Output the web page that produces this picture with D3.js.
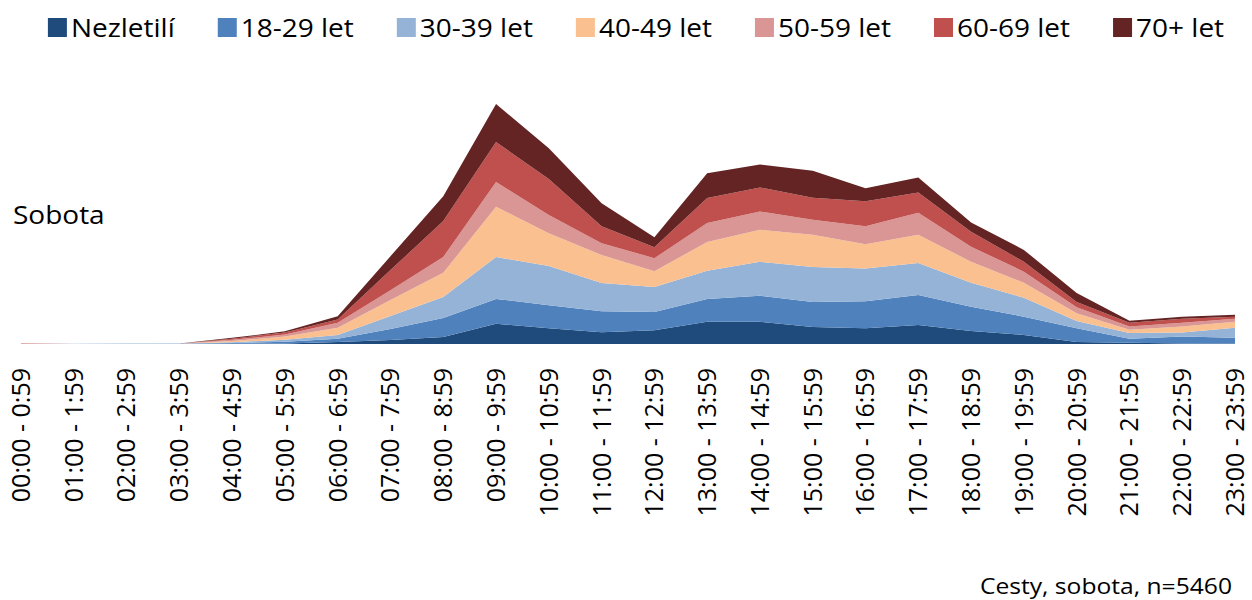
<!DOCTYPE html>
<html>
<head>
<meta charset="utf-8">
<script src="https://cdn.jsdelivr.net/npm/d3@7"></script>
<style>
  body { margin: 0; background: #fff; }
  svg { display: block; font-family: "Open Sans", sans-serif; }
</style>
</head>
<body>
<svg id="chart" width="1252" height="600"></svg>
<script>
// hours of the day (x categories)
const hours = [
  "00:00 - 0:59", "01:00 - 1:59", "02:00 - 2:59", "03:00 - 3:59", "04:00 - 4:59", "05:00 - 5:59",
  "06:00 - 6:59", "07:00 - 7:59", "08:00 - 8:59", "09:00 - 9:59", "10:00 - 10:59", "11:00 - 11:59",
  "12:00 - 12:59", "13:00 - 13:59", "14:00 - 14:59", "15:00 - 15:59", "16:00 - 16:59", "17:00 - 17:59",
  "18:00 - 18:59", "19:00 - 19:59", "20:00 - 20:59", "21:00 - 21:59", "22:00 - 22:59", "23:00 - 23:59"
];

const groups = ["Nezletilí", "18-29 let", "30-39 let", "40-49 let", "50-59 let", "60-69 let", "70+ let"];
const colors = ["#1f4a7c", "#4f81bd", "#95b3d7", "#fac090", "#d99694", "#c0504d", "#632423"];

// trips per hour
const nezletili = [0, 0, 0, 0, 0.5, 1, 5, 10, 18, 51, 40, 30, 35, 56, 56, 43, 40, 48, 33, 23, 5, 3, 1, 1];
const let18_29  = [0, 0, 0, 0.5, 2, 5, 8, 28, 48, 63, 58, 53, 46, 58, 66, 63, 68, 76, 61, 46, 35, 10, 18, 15];
const let30_39  = [0, 0.5, 1, 1, 2, 5, 10, 33, 53, 106, 99, 71, 63, 71, 86, 89, 83, 81, 61, 48, 18, 15, 10, 25];
const let40_49  = [0, 0, 0, 0, 3, 8, 18, 40, 61, 127, 83, 71, 40, 73, 81, 81, 61, 71, 53, 38, 20, 8, 15, 15];
const let50_59  = [1, 0, 0, 0, 3, 5, 13, 25, 40, 63, 46, 30, 33, 48, 46, 38, 46, 56, 38, 28, 15, 8, 10, 8];
const let60_69  = [1, 0, 0, 0, 3, 5, 8, 51, 91, 101, 91, 43, 28, 63, 61, 56, 63, 51, 38, 25, 13, 10, 10, 5];
const let70     = [0, 0, 0, 0, 2, 3, 8, 35, 63, 96, 78, 58, 25, 63, 58, 68, 33, 38, 23, 30, 23, 5, 5, 5];

const series = [nezletili, let18_29, let30_39, let40_49, let50_59, let60_69, let70];

const rows = hours.map((h, i) => {
  const r = { hour: h };
  groups.forEach((g, k) => { r[g] = series[k][i]; });
  return r;
});

const stretch = 1.12; // the original is a little wider than tall
const svg = d3.select("#chart");

const x = d3.scalePoint().domain(hours).range([21, 1235]);
const stacked = d3.stack().keys(groups)(rows);
const maxTotal = d3.max(stacked[stacked.length - 1], d => d[1]);
const y = d3.scaleLinear().domain([0, maxTotal]).range([344, 104]);

const area = d3.area()
  .x(d => x(d.data.hour))
  .y0(d => y(d[0]))
  .y1(d => y(d[1]));

svg.append("g")
  .selectAll("path")
  .data(stacked)
  .join("path")
  .attr("fill", (d, i) => colors[i])
  .attr("d", area);

// x labels, rotated
const xAxis = svg.append("g");
hours.forEach(h => {
  xAxis.append("text")
    .attr("transform", `translate(${x(h)},368) scale(1.05,1) rotate(-90)`)
    .attr("text-anchor", "end")
    .attr("dy", "0.34em")
    .attr("font-size", 25)
    .attr("fill", "#000")
    .text(h);
});

// legend
const legend = svg.append("g");
const items = [];
groups.forEach((g, i) => {
  const it = legend.append("g");
  it.append("rect")
    .attr("x", 0).attr("y", 18)
    .attr("width", 19).attr("height", 19)
    .attr("fill", colors[i]);
  const t = it.append("text")
    .attr("transform", `translate(23,28) scale(${stretch},1)`)
    .attr("dy", "0.36em")
    .attr("font-size", 25)
    .attr("fill", "#000")
    .text(g);
  const w = 23 + t.node().getComputedTextLength() * stretch;
  items.push({ it, w });
});
const gap = 43;
const totalW = d3.sum(items, d => d.w) + gap * (items.length - 1);
let lx = 636 - totalW / 2;
items.forEach(d => {
  d.it.attr("transform", `translate(${lx},0)`);
  lx += d.w + gap;
});

svg.append("text")
  .attr("transform", `translate(13,215) scale(${stretch},1)`)
  .attr("dy", "0.36em")
  .attr("font-size", 25)
  .text("Sobota");

svg.append("text")
  .attr("transform", `translate(1232,586) scale(${stretch},1)`)
  .attr("text-anchor", "end")
  .attr("dy", "0.36em")
  .attr("font-size", 22)
  .text("Cesty, sobota, n=5460");
</script>
</body>
</html>
